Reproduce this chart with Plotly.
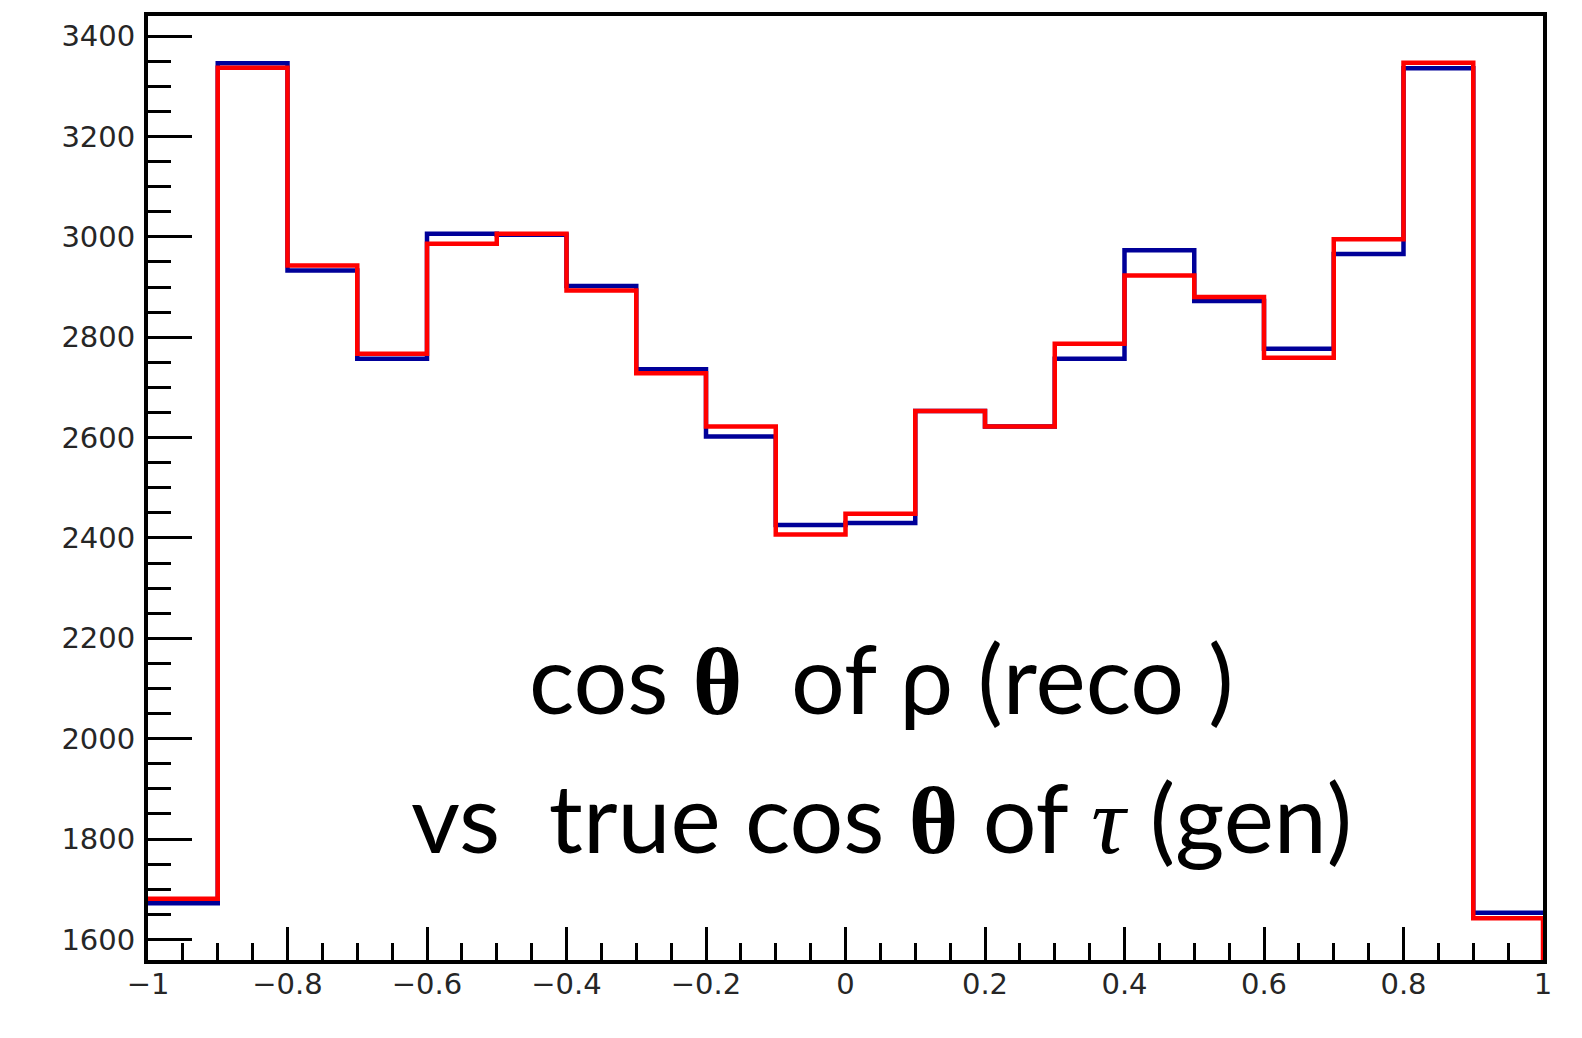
import plotly.graph_objects as go

# Histogram binning: 20 bins of width 0.1 on [-1, 1]
bin_edges = [round(-1.0 + 0.1 * i, 1) for i in range(21)]

# Bin contents
reco_rho = [1672, 3346, 2933, 2757, 3006, 3004, 2902, 2736, 2602, 2426,
            2430, 2653, 2622, 2757, 2973, 2872, 2777, 2966, 3336, 1653]
gen_tau = [1681, 3337, 2943, 2767, 2986, 3006, 2893, 2728, 2622, 2407,
           2448, 2653, 2622, 2787, 2923, 2880, 2759, 2995, 3347, 1642]

y_range = [1559, 3440]
x_ticks = [-1, -0.8, -0.6, -0.4, -0.2, 0, 0.2, 0.4, 0.6, 0.8, 1]
x_tick_text = ["\u22121", "\u22120.8", "\u22120.6", "\u22120.4", "\u22120.2",
               "0", "0.2", "0.4", "0.6", "0.8", "1"]
y_ticks = [1600, 1800, 2000, 2200, 2400, 2600, 2800, 3000, 3200, 3400]


def step_xy(values, close_right=False):
    xs = list(bin_edges)
    ys = list(values) + [values[-1]]
    if close_right:
        xs.append(bin_edges[-1])
        ys.append(y_range[0])
    return xs, ys


fig = go.Figure()

bx, by = step_xy(reco_rho)
fig.add_trace(go.Scatter(x=bx, y=by, mode="lines", line_shape="hv",
                         line=dict(color="#000099", width=4.5),
                         showlegend=False, hoverinfo="skip"))

rx, ry = step_xy(gen_tau, close_right=True)
fig.add_trace(go.Scatter(x=rx, y=ry, mode="lines", line_shape="hv",
                         line=dict(color="#ff0000", width=4.5),
                         showlegend=False, hoverinfo="skip"))

tick_font = dict(family="DejaVu Sans", size=29, color="#262626")

fig.update_xaxes(
    range=[-1, 1], tickvals=x_ticks, ticktext=x_tick_text,
    showgrid=False, zeroline=False,
    showline=True, linecolor="black", linewidth=4, mirror=True,
    ticks="inside", ticklen=33, tickwidth=3, tickcolor="black",
    minor=dict(dtick=0.05, tick0=-1, ticks="inside", ticklen=17,
               tickwidth=3, tickcolor="black", showgrid=False),
    tickfont=tick_font, ticklabelstandoff=-5,
)
fig.update_yaxes(
    range=y_range, tickvals=y_ticks,
    showgrid=False, zeroline=False,
    showline=True, linecolor="black", linewidth=4, mirror=True,
    ticks="inside", ticklen=44, tickwidth=3, tickcolor="black",
    minor=dict(dtick=50, tick0=1600, ticks="inside", ticklen=23,
               tickwidth=3, tickcolor="black", showgrid=False),
    tickfont=tick_font, ticklabelstandoff=3,
)

sp = "\u00a0"
theta = '<span style="font-family:Liberation Serif"><b>\u03b8</b></span>'
tau = '<span style="font-family:Liberation Serif"><i>\u03c4</i></span>'
line1 = f"cos {theta}{sp}{sp}of \u03c1 (reco{sp})"
line2 = f"vs{sp}{sp}true cos {theta} of {tau} (gen)"

for text, yp in [(line1, 0.299), (line2, 0.152)]:
    fig.add_annotation(text=text, xref="paper", yref="paper",
                       x=0.5255, y=yp, xanchor="center", yanchor="middle",
                       showarrow=False,
                       font=dict(family="Lato", size=95, color="black"))

fig.update_layout(
    width=1582, height=1038,
    margin=dict(l=148, r=39, t=13, b=78),
    plot_bgcolor="white", paper_bgcolor="white",
)

fig.write_html("out.html")
